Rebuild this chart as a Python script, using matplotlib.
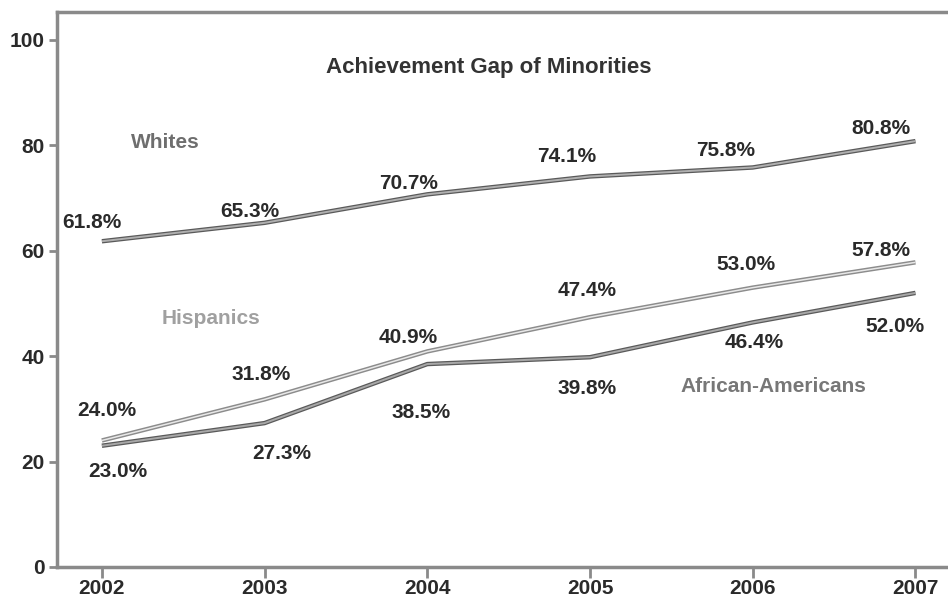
import matplotlib.pyplot as plt
import matplotlib.patheffects as pe

years = [2002, 2003, 2004, 2005, 2006, 2007]
whites = [61.8, 65.3, 70.7, 74.1, 75.8, 80.8]
hispanics = [24.0, 31.8, 40.9, 47.4, 53.0, 57.8]
african_americans = [23.0, 27.3, 38.5, 39.8, 46.4, 52.0]

# label offsets from each point, in pixels
whites_off = [(-10, 19), (-15, 11), (-19, 11), (-23, 20), (-27, 17), (-35, 13)]
hisp_off = [(5, 30), (-3, 25), (-19, 14), (-3, 27), (-7, 23), (-35, 12)]
aa_off = [(16, -26), (17, -30), (-6, -48), (-3, -31), (1, -20), (-20, -34)]

FONT = ['Liberation Sans Narrow', 'Liberation Sans', 'DejaVu Sans']

fig = plt.figure(figsize=(9.48, 6.06), dpi=100)
ax = fig.add_axes([0.0601, 0.0644, 0.9399, 0.9158])

dark = [pe.Stroke(linewidth=3.2, foreground='#5a5a5a'), pe.Normal()]
light = [pe.Stroke(linewidth=3.2, foreground='#8c8c8c'), pe.Normal()]
ax.plot(years, whites, color='#b0b0b0', lw=1.4, path_effects=dark, solid_capstyle='butt')
ax.plot(years, hispanics, color='#e8e8e8', lw=1.1, path_effects=light, solid_capstyle='butt')
ax.plot(years, african_americans, color='#a8a8a8', lw=1.4, path_effects=dark, solid_capstyle='butt')

for series, offs in ((whites, whites_off), (hispanics, hisp_off), (african_americans, aa_off)):
    for x, v, (dx, dy) in zip(years, series, offs):
        ax.annotate(f'{v:.1f}%', (x, v), xytext=(dx, dy), textcoords='offset pixels',
                    ha='center', va='center', fontsize=15, fontweight='bold',
                    color='#2a2a2a', family=FONT)

ax.text(2004.38, 94.7, 'Achievement Gap of Minorities', ha='center', va='center',
        fontsize=16, fontweight='bold', color='#333333', family=FONT)
ax.text(2002.39, 80.5, 'Whites', ha='center', va='center', fontsize=15,
        fontweight='bold', color='#6e6e6e', family=FONT)
ax.text(2002.67, 47.2, 'Hispanics', ha='center', va='center', fontsize=15,
        fontweight='bold', color='#a0a0a0', family=FONT)
ax.text(2006.13, 34.3, 'African-Americans', ha='center', va='center', fontsize=15,
        fontweight='bold', color='#777777', family=FONT)

ax.set_xlim(2001.724, 2007.2)
ax.set_ylim(0, 105.3)
ax.set_xticks(years)
ax.set_yticks([0, 20, 40, 60, 80, 100])
ax.spines['right'].set_visible(False)
for s in ('left', 'bottom', 'top'):
    ax.spines[s].set_color('#8a8a8a')
    ax.spines[s].set_linewidth(2.5)
ax.tick_params(axis='x', length=8, width=2, color='#8a8a8a', pad=1)
ax.tick_params(axis='y', length=6, width=2, color='#8a8a8a', pad=3)
for lab in ax.get_xticklabels() + ax.get_yticklabels():
    lab.set_fontsize(15)
    lab.set_fontweight('bold')
    lab.set_family(FONT)
    lab.set_color('#2a2a2a')

fig.savefig('out.png', dpi=100)
